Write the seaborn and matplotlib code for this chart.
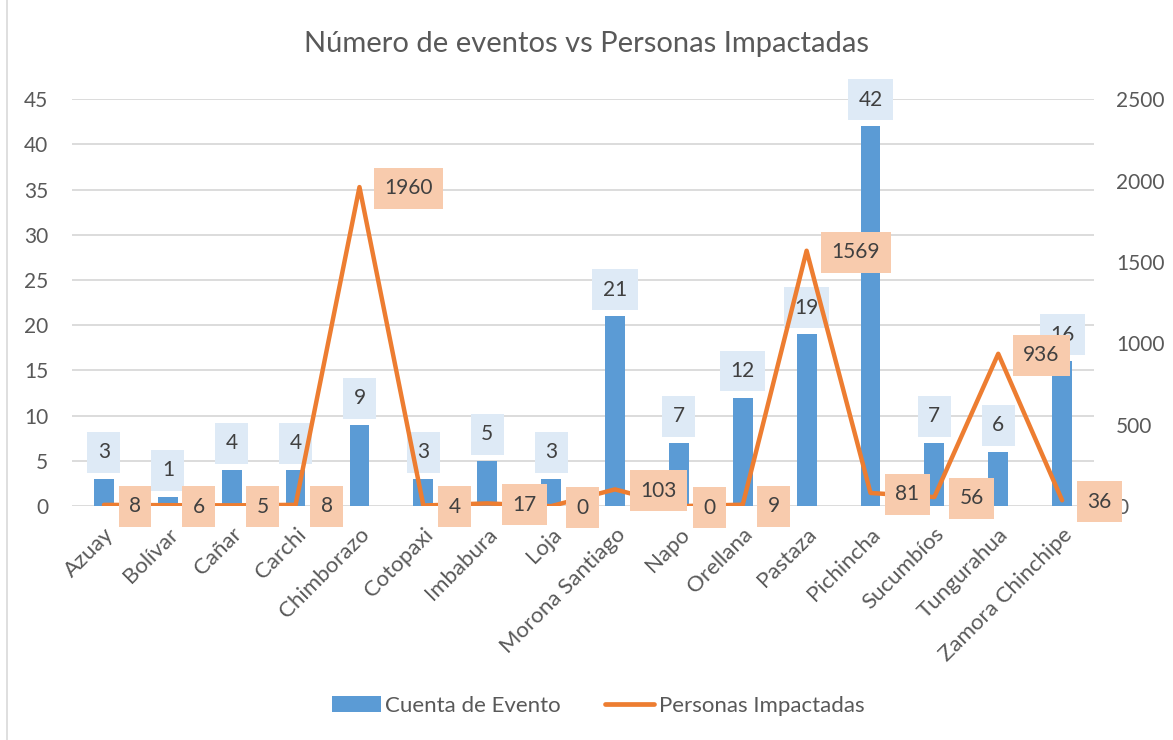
import matplotlib
matplotlib.use("Agg")
import matplotlib.pyplot as plt
from matplotlib.patches import Patch
from matplotlib.lines import Line2D
import numpy as np
import pandas as pd
import seaborn as sns

# data
provincias = ["Azuay", "Bolívar", "Cañar", "Carchi", "Chimborazo", "Cotopaxi",
              "Imbabura", "Loja", "Morona Santiago", "Napo", "Orellana", "Pastaza",
              "Pichincha", "Sucumbíos", "Tungurahua", "Zamora Chinchipe"]
cuenta_evento = [3, 1, 4, 4, 9, 3, 5, 3, 21, 7, 12, 19, 42, 7, 6, 16]
personas = [8, 6, 5, 8, 1960, 4, 17, 0, 103, 0, 9, 1569, 81, 56, 936, 36]

BLUE = "#5B9BD5"
ORANGE = "#ED7D31"
TXT = "#595959"
GRID = "#D9D9D9"

df = pd.DataFrame({"provincia": provincias, "cuenta": cuenta_evento,
                   "personas": personas})
df["pos"] = np.arange(len(df))

sns.set_theme(style="white")
plt.rcParams["font.family"] = ["Lato", "DejaVu Sans"]

fig = plt.figure(figsize=(11.73, 7.40), dpi=100)
ax = fig.add_axes([0.0614, 0.316, 0.8713, 0.550])

sns.barplot(data=df, x="provincia", y="cuenta", color=BLUE, width=0.31,
            saturation=1, linewidth=0, ax=ax, zorder=2)
ax.set_ylim(0, 45)
ax.set_yticks(range(0, 46, 5))
ax.set_xlim(-0.5, len(df) - 0.5)
ax.grid(axis="y", color=GRID, linewidth=1.3, zorder=0)
ax.set_axisbelow(True)
ax.set_xlabel("")
ax.set_ylabel("")
ax.tick_params(axis="y", labelsize=15, colors=TXT, length=0, pad=17)
ax.tick_params(axis="x", labelsize=16, colors=TXT, length=0, pad=13)
plt.setp(ax.get_xticklabels(), rotation=45, ha="right", rotation_mode="anchor")
for s in ax.spines.values():
    s.set_visible(False)

# count labels above bars
for p, v in zip(df["pos"], df["cuenta"]):
    ax.annotate(str(v), (p, v), xytext=(0, 12), textcoords="offset points",
                ha="center", va="bottom", fontsize=15, color="#404040",
                bbox=dict(boxstyle="square,pad=0.5", fc="#DEEAF6", ec="none"),
                zorder=5)

ax2 = ax.twinx()
sns.lineplot(data=df, x="pos", y="personas", color=ORANGE, linewidth=3.2,
             ax=ax2, zorder=3)
ax2.set_ylim(0, 2500)
ax2.set_yticks(range(0, 2501, 500))
ax2.set_ylabel("")
ax2.tick_params(axis="y", labelsize=15, colors=TXT, length=0, pad=16)
for s in ax2.spines.values():
    s.set_visible(False)

for p, v in zip(df["pos"], df["personas"]):
    ax2.annotate(str(v), (p, v), xytext=(18, -1), textcoords="offset points",
                 ha="left", va="center", fontsize=15, color="#404040",
                 bbox=dict(boxstyle="square,pad=0.5", fc="#F8CBAD", ec="none"),
                 zorder=6)

fig.suptitle("Número de eventos vs Personas Impactadas", y=0.958,
             fontsize=21, color=TXT)

handles = [Patch(facecolor=BLUE, edgecolor="none"),
           Line2D([0], [0], color=ORANGE, linewidth=3.4)]
fig.legend(handles, ["Cuenta de Evento", "Personas Impactadas"],
           loc="center", bbox_to_anchor=(0.51, 0.046), ncol=2, frameon=False,
           fontsize=16, labelcolor=TXT, handlelength=2.2, columnspacing=2,
           handletextpad=0.2)

# chart frame edge on the left
fig.add_artist(Line2D([0.006, 0.006], [0.0, 1.0], color=GRID, linewidth=1.2))

fig.savefig("out.png", dpi=100)
